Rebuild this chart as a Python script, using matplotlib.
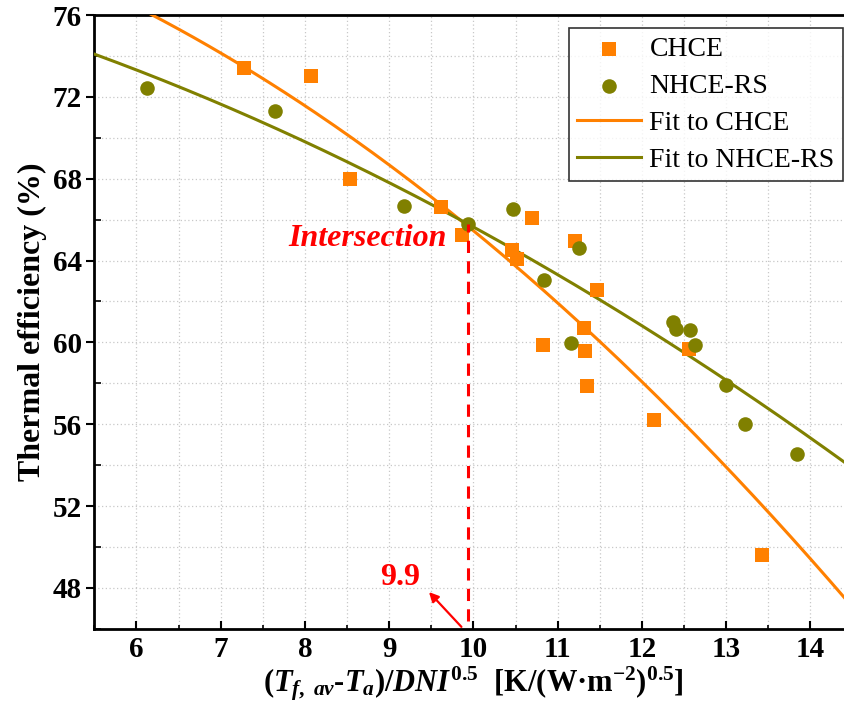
import numpy as np
import matplotlib
matplotlib.use("Agg")
from matplotlib import pyplot as plt
from matplotlib.ticker import MultipleLocator

chce_x = [7.28, 8.07, 8.53, 9.61, 9.87, 10.46, 10.52, 10.70, 11.20, 11.47,
          11.31, 10.82, 11.33, 11.35, 12.14, 12.56, 13.43]
chce_y = [73.4, 73.0, 67.97, 66.6, 65.23, 64.53, 64.09, 66.07, 64.98, 62.57,
          60.69, 59.85, 59.56, 57.87, 56.23, 59.68, 49.6]

nhce_x = [6.13, 7.65, 9.18, 9.94, 10.47, 11.25, 10.84, 11.16, 12.37, 12.40,
          12.57, 12.63, 13.00, 13.22, 13.84]
nhce_y = [72.43, 71.3, 66.65, 65.8, 66.53, 64.59, 63.06, 59.99, 61.0, 60.64,
          60.61, 59.87, 57.93, 56.03, 54.57]

# quadratic fit coefficients (highest power first)
fit_chce = [-0.1592, -0.188, 83.26]
fit_nhce = [-0.0823, -0.602, 79.89]

x_cross = 9.93
x_ticks = [6, 7, 8, 9, 10, 11, 12, 13, 14]
y_ticks = [48, 52, 56, 60, 64, 68, 72, 76]

orange = "#FF8000"
olive = "#808000"

plt.rcParams['font.family'] = ['Liberation Serif', 'DejaVu Serif']
plt.rcParams['mathtext.fontset'] = 'custom'
plt.rcParams['mathtext.rm'] = 'Liberation Serif:bold'
plt.rcParams['mathtext.it'] = 'Liberation Serif:bold:italic'
plt.rcParams['mathtext.bf'] = 'Liberation Serif:bold'

fig = plt.figure(figsize=(8.45, 7.11), dpi=100)
ax = fig.add_axes([94.3 / 845, 82.1 / 711, 758.25 / 845, 613.9 / 711])

xs = np.linspace(5.5, 14.5, 200)
ax.plot(xs, np.polyval(fit_chce, xs), color=orange, lw=2.2, label="Fit to CHCE", zorder=3)
ax.plot(xs, np.polyval(fit_nhce, xs), color=olive, lw=2.2, label="Fit to NHCE-RS", zorder=3)
ax.scatter(chce_x, chce_y, marker='s', s=115, color=orange, linewidths=0, label="CHCE", zorder=4)
ax.scatter(nhce_x, nhce_y, marker='o', s=110, color=olive, linewidths=0, label="NHCE-RS", zorder=4)

ax.plot([x_cross, x_cross], [46.4, 65.8], color='red', lw=2.2, dashes=(4, 2.7), zorder=5)
ax.annotate('', xy=(9.45, 47.9), xytext=(9.88, 46.0),
            arrowprops=dict(arrowstyle='-|>', color='red', lw=1.6, mutation_scale=14), zorder=5)
ax.text(9.13, 48.5, "9.9", color='red', fontsize=23, fontweight='bold', ha='center', va='center')
ax.text(9.68, 65.1, "Intersection", color='red', fontsize=23, fontweight='bold',
        fontstyle='italic', ha='right', va='center')

ax.set_xlim(5.5, 14.5)
ax.set_ylim(46, 76)
ax.set_xticks(x_ticks)
ax.set_yticks(y_ticks)
ax.xaxis.set_minor_locator(MultipleLocator(0.5))
ax.yaxis.set_minor_locator(MultipleLocator(2))
ax.grid(True, which='both', color='#c8c8c8', linestyle=(0, (1, 2)), lw=0.9)
ax.set_axisbelow(True)

ax.tick_params(axis='x', which='major', direction='in', length=6, width=1.5, labelsize=21, pad=5)
ax.tick_params(axis='x', which='minor', direction='in', length=3, width=1.2)
ax.tick_params(axis='y', which='major', direction='out', length=6, width=1.5, labelsize=21, pad=3)
ax.tick_params(axis='y', which='minor', direction='in', length=5, width=1.2)
for lab in ax.get_xticklabels() + ax.get_yticklabels():
    lab.set_fontweight('bold')
for sp in ax.spines.values():
    sp.set_linewidth(2)

ax.set_ylabel("Thermal efficiency (%)", fontsize=23, fontweight='bold', labelpad=4)
ax.set_xlabel(r"$(\mathit{T}_{\mathit{f,\ av}}$-$\mathit{T}_{\mathit{a}})/\mathit{DNI}^{\mathrm{0.5}}$"
              "  [K/(W·m$^{\\mathrm{-2}}$)$^{\\mathrm{0.5}}$]",
              fontsize=22, fontweight='bold', labelpad=1)

h, l = ax.get_legend_handles_labels()
order = [2, 3, 0, 1]
leg = ax.legend([h[i] for i in order], [l[i] for i in order], loc='upper right',
                bbox_to_anchor=(0.9874, 0.9788), borderaxespad=0, fontsize=20,
                frameon=True, fancybox=False, edgecolor='black', handlelength=2.3,
                labelspacing=0.42, borderpad=0.3, handletextpad=0.3)
leg.get_frame().set_linewidth(1.2)

fig.savefig("out.png", dpi=100)
